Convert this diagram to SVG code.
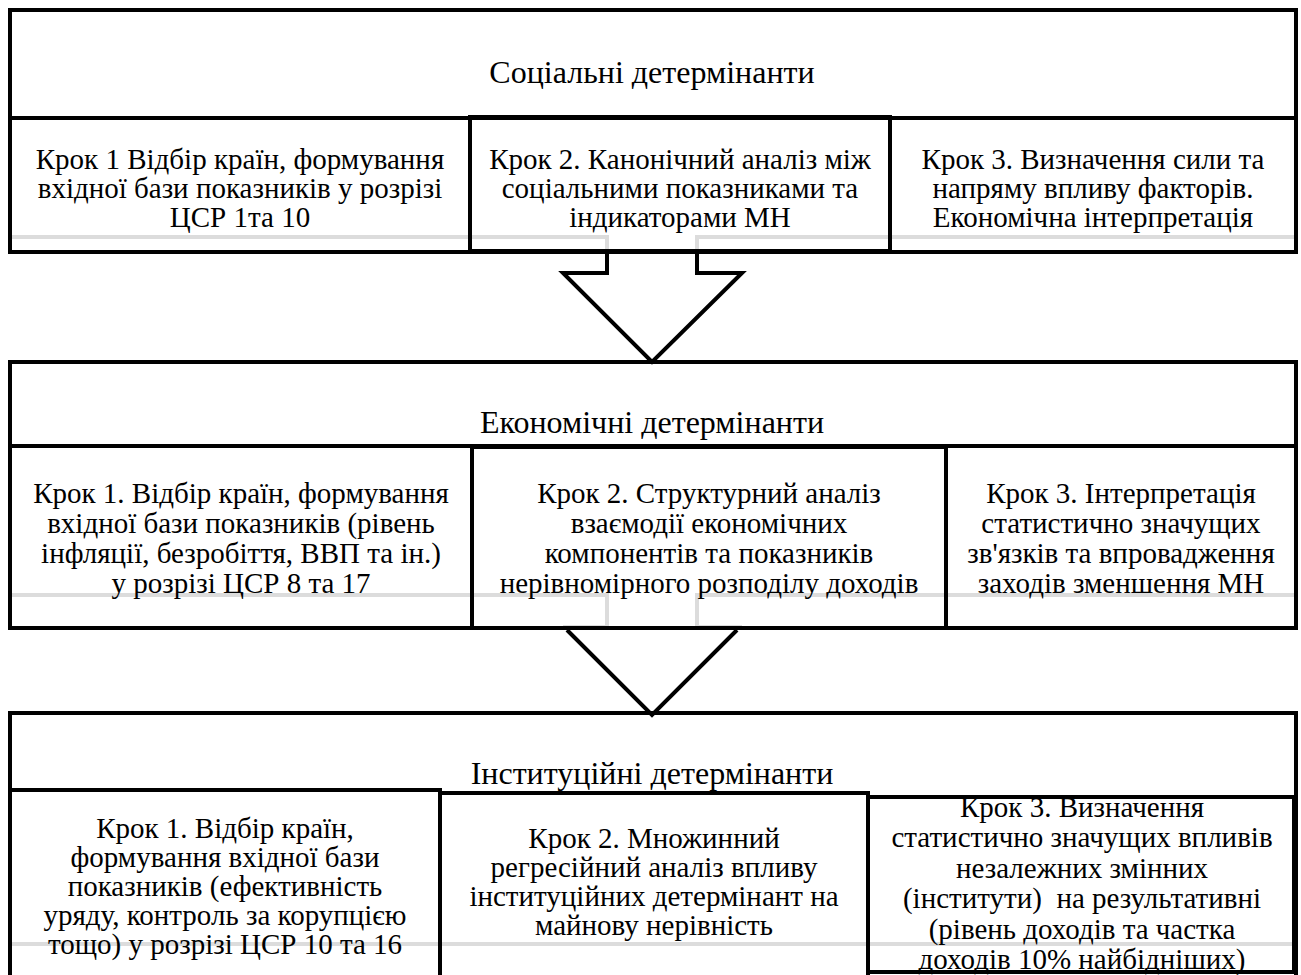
<svg xmlns="http://www.w3.org/2000/svg" width="1301" height="975" viewBox="0 0 1301 975">
<style>
.box{fill:none;stroke:#000;stroke-width:4}
.ln{fill:none;stroke:#000;stroke-width:4}
.arrow{fill:#fff;stroke:#000;stroke-width:4}
.gray{fill:none;stroke:#dcdcdc;stroke-width:4}
text{font-family:"Liberation Serif","Times New Roman",serif;font-size:29px;fill:#000;text-anchor:middle}
text.title{font-size:32px}
</style>
<rect x="0" y="0" width="1301" height="975" fill="#fff"/>
<g id="guides">
<polyline class="gray" points="10,237 607,237 607,252"/>
<polyline class="gray" points="697,252 697,237 1296,237"/>
<polyline class="gray" points="10,595 607,595 607,627 563,627"/>
<polyline class="gray" points="742,627 697,627 697,595 1296,595"/>
<line class="gray" x1="10" y1="944" x2="1296" y2="944"/>
</g>
<!-- Section 1 -->
<g id="social">
<rect class="box" x="10" y="10" width="1286" height="242"/>
<line class="ln" x1="10" y1="118" x2="1296" y2="118"/>
<text class="title" x="652" y="83">Соціальні детермінанти</text>
</g>
<g id="s1-step1">
<rect class="box" x="10" y="118" width="460" height="134"/>
<text x="240" y="169">Крок 1 Відбір країн, формування</text>
<text x="240" y="198">вхідної бази показників у розрізі</text>
<text x="240" y="227">ЦСР 1та 10</text>
</g>
<g id="s1-step2">
<rect class="box" x="470" y="117" width="420" height="134"/>
<text x="680" y="169">Крок 2. Канонічний аналіз між</text>
<text x="680" y="198">соціальними показниками та</text>
<text x="680" y="227">індикаторами МН</text>
</g>
<g id="s1-step3">
<rect class="box" x="890" y="118" width="406" height="134"/>
<text x="1093" y="169">Крок 3. Визначення сили та</text>
<text x="1093" y="198">напряму впливу факторів.</text>
<text x="1093" y="227">Економічна інтерпретація</text>
</g>
<!-- Section 2 -->
<g id="economic">
<rect class="box" x="10" y="362" width="1286" height="266"/>
<line class="ln" x1="10" y1="446" x2="1296" y2="446"/>
<text class="title" x="652" y="433">Економічні детермінанти</text>
</g>
<g id="s2-step1">
<rect class="box" x="10" y="446" width="462" height="182"/>
<text x="241" y="503">Крок 1. Відбір країн, формування</text>
<text x="241" y="533">вхідної бази показників (рівень</text>
<text x="241" y="563">інфляції, безробіття, ВВП та ін.)</text>
<text x="241" y="593">у розрізі ЦСР 8 та 17</text>
</g>
<g id="s2-step2">
<rect class="box" x="472" y="447" width="474" height="181"/>
<text x="709" y="503">Крок 2. Структурний аналіз</text>
<text x="709" y="533">взаємодії економічних</text>
<text x="709" y="563">компонентів та показників</text>
<text x="709" y="593">нерівномірного розподілу доходів</text>
</g>
<g id="s2-step3">
<rect class="box" x="946" y="446" width="350" height="182"/>
<text x="1121" y="503">Крок 3. Інтерпретація</text>
<text x="1121" y="533">статистично значущих</text>
<text x="1121" y="563">зв'язків та впровадження</text>
<text x="1121" y="593">заходів зменшення МН</text>
</g>
<!-- Section 3 -->
<g id="institutional">
<rect class="box" x="10" y="713" width="1286" height="270"/>
<text class="title" x="652" y="784">Інституційні детермінанти</text>
</g>
<g id="s3-step1">
<rect class="box" x="10" y="790" width="430" height="195"/>
<text x="225" y="838">Крок 1. Відбір країн,</text>
<text x="225" y="867">формування вхідної бази</text>
<text x="225" y="896">показників (ефективність</text>
<text x="225" y="925">уряду, контроль за корупцією</text>
<text x="225" y="954">тощо) у розрізі ЦСР 10 та 16</text>
</g>
<g id="s3-step2">
<rect class="box" x="440" y="793" width="428" height="192"/>
<text x="654" y="848">Крок 2. Множинний</text>
<text x="654" y="877">регресійний аналіз впливу</text>
<text x="654" y="906">інституційних детермінант на</text>
<text x="654" y="935">майнову нерівність</text>
</g>
<g id="s3-step3">
<rect class="box" x="868" y="797" width="426" height="175"/>
<text x="1082" y="817">Крок 3. Визначення</text>
<text x="1082" y="847">статистично значущих впливів</text>
<text x="1082" y="878">незалежних змінних</text>
<text x="1082" y="908" xml:space="preserve">(інститути)  на результативні</text>
<text x="1082" y="939">(рівень доходів та частка</text>
<text x="1082" y="969">доходів 10% найбідніших)</text>
</g>
<!-- Connectors -->
<g id="connectors">
<polygon class="arrow" points="607,252 607,273 563,273 652,362 742,273 697,273 697,252"/>
<polyline class="ln" points="567,630 652,715 737,630"/>
</g>
</svg>
